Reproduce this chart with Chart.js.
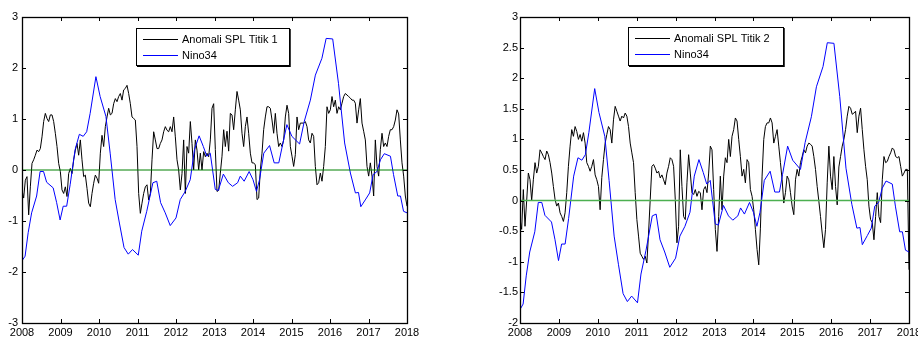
<!DOCTYPE html>
<html>
<head>
<meta charset="utf-8">
<script src="https://cdn.jsdelivr.net/npm/chart.js@4.4.1/dist/chart.umd.min.js"></script>
<style>
  html, body { margin: 0; padding: 0; background: #fff; overflow: hidden; width: 918px; height: 340px; }
  #c1 { position: absolute; left: 0; top: 0; }
  #c2 { position: absolute; left: 459px; top: 0; }
</style>
</head>
<body>
<canvas id="c1" width="459" height="340"></canvas>
<canvas id="c2" width="480" height="340"></canvas>
<script>
// ---- data ----
const yearTicks = [2008, 2009, 2010, 2011, 2012, 2013, 2014, 2015, 2016, 2017, 2018];
const yTicksLeft = [-3, -2, -1, 0, 1, 2, 3];
const yTicksRight = [-2, -1.5, -1, -0.5, 0, 0.5, 1, 1.5, 2, 2.5, 3];

// Nino3.4 index (same series in both panels)
const ninoYears = [
  2008.00, 2008.08, 2008.16, 2008.25, 2008.38, 2008.47, 2008.56, 2008.64, 2008.81, 2008.90, 2008.99,
  2009.07, 2009.16, 2009.25, 2009.38, 2009.49, 2009.59, 2009.68, 2009.77, 2009.92,
  2010.03, 2010.18, 2010.29, 2010.42, 2010.53, 2010.65, 2010.76, 2010.87,
  2011.02, 2011.11, 2011.24, 2011.40, 2011.50, 2011.60, 2011.72, 2011.85,
  2012.00, 2012.11, 2012.24, 2012.37, 2012.48, 2012.60, 2012.71, 2012.80, 2012.89,
  2013.02, 2013.10, 2013.23, 2013.36, 2013.47, 2013.60, 2013.67, 2013.77, 2013.90,
  2014.00, 2014.09, 2014.17, 2014.28, 2014.43, 2014.55, 2014.67, 2014.75, 2014.88,
  2015.01, 2015.21, 2015.33, 2015.49, 2015.62, 2015.79, 2015.90,
  2016.07, 2016.22, 2016.38, 2016.53, 2016.66, 2016.74, 2016.80, 2016.93,
  2017.03, 2017.12, 2017.22, 2017.31, 2017.41, 2017.57, 2017.65, 2017.76, 2017.83, 2017.91, 2018.00
];
const ninoValues = [
  -1.78, -1.69, -1.23, -0.84, -0.51, -0.03, -0.03, -0.24, -0.35, -0.64, -0.98,
  -0.71, -0.71, -0.29, 0.40, 0.70, 0.66, 0.75, 1.11, 1.83,
  1.44, 1.05, 0.33, -0.58, -1.04, -1.52, -1.65, -1.56,
  -1.67, -1.20, -0.81, -0.25, -0.22, -0.64, -0.84, -1.09,
  -0.94, -0.58, -0.42, -0.19, 0.40, 0.67, 0.46, 0.27, 0.33,
  -0.38, -0.40, -0.08, -0.25, -0.32, -0.25, -0.12, -0.22, -0.03,
  -0.19, -0.42, -0.19, 0.33, 0.48, 0.14, 0.14, 0.43, 0.89,
  0.66, 0.51, 0.95, 1.37, 1.86, 2.19, 2.58,
  2.57, 1.70, 0.53, -0.06, -0.45, -0.44, -0.72, -0.57,
  -0.45, -0.09, -0.03, 0.20, 0.32, 0.27, -0.09, -0.51, -0.51, -0.81, -0.84
];

// SST anomaly, point 1 (regular sampling from 2008.0 to 2018.0)
const spl1Values = [
  -0.39, -0.55, -0.20, -0.13, -0.88, -0.33, 0.13, 0.20, 0.29, 0.39, 0.36, 0.42, 0.65, 0.95, 1.11, 1.01,
  0.95, 1.08, 1.08, 0.95, 0.72, 0.46, 0.13, -0.03, -0.39, -0.46, -0.33, -0.52, -0.07, 0.03, -0.07, 0.20,
  0.39, 0.52, 0.29, 0.59, 0.20, -0.13, -0.10, -0.36, -0.65, -0.72, -0.46, -0.26, -0.10, -0.16, -0.26, 0.33,
  0.68, 0.46, 0.85, 1.04, 1.21, 1.08, 1.11, 1.30, 1.40, 1.34, 1.44, 1.50, 1.37, 1.57, 1.60, 1.66,
  1.50, 1.30, 1.04, 1.01, 0.98, 0.46, -0.46, -0.85, -0.65, -0.46, -0.33, -0.29, -0.59, -0.46, 0.20, 0.75,
  0.59, 0.42, 0.42, 0.52, 0.59, 0.75, 0.85, 0.78, 0.75, 0.85, 0.75, 1.04, 0.65, 0.20, 0.00, -0.39,
  -0.07, 0.59, -0.46, 0.46, 0.33, 0.95, 0.52, 0.00, 0.59, 0.39, 0.00, 0.33, 0.00, 0.36, 0.26, 0.33,
  0.26, 0.59, 1.21, 1.30,
  0.40, -0.42, -0.40, -0.06, 0.27, 0.79, 0.46, 0.76, 0.37, 1.11, 1.08, 0.79, 1.18, 1.54, 1.37, 1.18,
  0.72, 0.46, 0.85, 1.04, 0.72, 0.33, 0.14, 0.14, 0.10, -0.58, -0.55, 0.00, 0.33, 0.79, 1.04, 1.24,
  1.24, 1.21, 0.98, 0.72, 1.11, 0.72, 0.46, 0.53, 0.46, 0.59, 1.04, 1.27, 1.11, 0.46, 0.27, 0.07,
  0.30, 1.04, 0.79, 0.92, 0.92, 0.92, 0.95, 0.85, 0.59, 0.53, 0.72, 0.66, 0.07, -0.29, -0.25, -0.06,
  -0.22, 0.07, 0.46, 1.24, 1.11, 1.18, 1.44, 1.24, 1.37, 1.11, 1.24, 1.18, 1.31, 1.44, 1.50, 1.47,
  1.44, 1.41, 1.37, 1.37, 1.31, 0.92, 1.18, 1.40, 0.92, 0.76, 0.59, 0.07, -0.12, 0.14, -0.12, -0.51,
  0.59, 0.07, -0.12, 0.40, 0.72, 0.46, 0.53, 0.46, 0.66, 0.79, 0.79, 0.85, 0.98, 1.18, 1.10, 0.59,
  0.14, -0.12, -0.51, -0.71
];

// SST anomaly, point 2 (regular sampling from 2008.0 to 2018.0)
const spl2Values = [
  -0.30, -0.47, 0.18, -0.42, 0.00, 0.45, 0.34, 0.00, 0.34, 0.62, 0.45, 0.56, 0.83, 0.78, 0.72, 0.67,
  0.81, 0.75, 0.62, 0.45, 0.23, 0.02, -0.09, -0.04, -0.20, -0.26, -0.34, -0.20, 0.13, 0.56, 0.89, 1.16,
  1.05, 1.21, 1.13, 1.00, 1.08, 0.97, 1.11, 0.94, 0.62, 0.56, 0.48, 0.56, 0.67, 0.42, 0.34, 0.23,
  -0.15, 0.38, 0.67, 0.94, 1.08, 1.21, 1.16, 0.94, 1.32, 1.54, 1.46, 1.38, 1.30, 1.38, 1.35, 1.43,
  1.38, 1.21, 0.94, 0.78, 0.62, 0.13, -0.31, -0.58, -0.86, -0.91, -0.96, -0.91, -1.02, -0.53, 0.02, 0.56,
  0.59, 0.53, 0.45, 0.48, 0.37, 0.42, 0.34, 0.26, 0.45, 0.56, 0.70, 0.67, 0.56, 0.02, -0.69, -0.42,
  0.83, 0.23, -0.26, -0.31, 0.29, 0.75, 0.45, 0.13, 0.10, 0.18, 0.07, 0.15, 0.13, -0.15, 0.18, 0.23,
  0.13, 0.45,
  0.89, 0.83, 0.18, -0.47, -0.83, -0.26, 0.40, -0.15, 0.40, 0.70, 0.62, 1.00, 0.72, 1.05, 1.16, 1.35,
  1.30, 1.00, 0.72, 0.40, 0.51, 0.29, 0.67, 0.62, 0.18, 0.07, -0.15, -0.47, -0.80, -1.05, -0.45, 0.40,
  1.00, 1.21, 1.27, 1.27, 1.35, 1.27, 0.94, 1.05, 1.16, 0.89, 0.62, 0.34, -0.04, 0.13, 0.40, 0.34,
  0.13, -0.09, -0.23, 0.34, 0.51, 0.40, 0.62, 0.72, 0.83, 0.78, 0.89, 0.94, 0.92, 0.89, 0.72, 0.51,
  0.23, -0.01, -0.26, -0.53, -0.77, -0.47, 0.29, 0.89, 0.40, 0.18, 0.72, 0.23, -0.07, 0.55, 0.72, 0.89,
  1.00, 1.16, 1.38, 1.54, 1.51, 1.41, 1.43, 1.46, 1.11, 1.38, 1.51, 1.16, 0.83, 0.56, 0.34, -0.09,
  -0.31, -0.36, -0.64, -0.26, 0.13, -0.26, -0.36, 0.34, 0.72, 0.62, 0.64, 0.72, 0.78, 0.86, 0.83, 0.72,
  0.70, 0.72, 0.56, 0.40, 0.45, 0.51, 0.51, -1.13
];

const startYear = 2008;
const endYear = 2018;

// ---- helpers ----
const FONT = { family: '"Liberation Sans", Arial, sans-serif', size: 11 };

function regularSeries(values) {
  const n = values.length;
  const step = (endYear - startYear) / (n - 1);
  return values.map((v, i) => ({ x: startYear + i * step, y: v }));
}
function pairedSeries(xs, ys) {
  return xs.map((x, i) => ({ x: x, y: ys[i] }));
}

// box around the plot area with inward ticks on all four sides
const framePlugin = {
  id: 'frame',
  afterDatasetsDraw(chart) {
    const { ctx, chartArea: a, scales } = chart;
    const tl = 4;
    ctx.save();
    ctx.strokeStyle = '#000';
    ctx.lineWidth = 1;
    ctx.beginPath();
    scales.x.ticks.forEach(t => {
      const px = Math.round(scales.x.getPixelForValue(t.value)) + 0.5;
      ctx.moveTo(px, a.bottom); ctx.lineTo(px, a.bottom - tl);
      ctx.moveTo(px, a.top); ctx.lineTo(px, a.top + tl);
    });
    scales.y.ticks.forEach(t => {
      const py = Math.round(scales.y.getPixelForValue(t.value)) + 0.5;
      ctx.moveTo(a.left, py); ctx.lineTo(a.left + tl, py);
      ctx.moveTo(a.right, py); ctx.lineTo(a.right - tl, py);
    });
    ctx.stroke();
    ctx.lineWidth = 1.3;
    ctx.strokeRect(Math.round(a.left) + 0.5, Math.round(a.top) + 0.5,
                   Math.round(a.right - a.left), Math.round(a.bottom - a.top));
    ctx.restore();
  }
};

// boxed legend listing the two plotted series
const boxLegendPlugin = {
  id: 'boxLegend',
  afterDraw(chart, args, opts) {
    const { ctx } = chart;
    const items = chart.data.datasets.filter(d => d.label);
    const { left, top, width, height, lineLen, rowGap } = opts;
    ctx.save();
    ctx.fillStyle = '#fff';
    ctx.fillRect(left, top, width, height);
    ctx.strokeStyle = '#000';
    ctx.lineWidth = 1;
    ctx.strokeRect(left + 0.5, top + 0.5, width, height);
    ctx.beginPath();
    ctx.lineWidth = 1.5;
    ctx.moveTo(left + width + 1, top + 1); ctx.lineTo(left + width + 1, top + height + 1.2);
    ctx.lineTo(left + 1, top + height + 1.2);
    ctx.stroke();
    ctx.font = FONT.size + 'px ' + FONT.family;
    ctx.textBaseline = 'middle';
    ctx.textAlign = 'left';
    items.forEach((d, i) => {
      const y = top + 11.5 + i * rowGap;
      ctx.strokeStyle = d.borderColor;
      ctx.lineWidth = 1;
      ctx.beginPath();
      ctx.moveTo(left + 7, y); ctx.lineTo(left + 7 + lineLen, y);
      ctx.stroke();
      ctx.fillStyle = '#000';
      ctx.fillText(d.label, left + 11 + lineLen, y + 0.5);
    });
    ctx.restore();
  }
};

function makeChart(id, splLabel, splValues, yMin, yMax, yTicks, geom) {
  return new Chart(document.getElementById(id), {
    type: 'line',
    data: {
      datasets: [
        {
          label: splLabel,
          data: regularSeries(splValues),
          borderColor: '#000000',
          borderWidth: 1,
          pointRadius: 0,
          tension: 0,
          order: 3
        },
        {
          label: 'Nino34',
          data: pairedSeries(ninoYears, ninoValues),
          borderColor: '#0000ff',
          borderWidth: 1,
          pointRadius: 0,
          tension: 0,
          order: 2
        },
        {
          data: [{ x: startYear, y: 0 }, { x: endYear, y: 0 }],
          borderColor: geom.zeroColor,
          borderWidth: geom.zeroWidth,
          pointRadius: 0,
          order: 1
        }
      ]
    },
    options: {
      responsive: false,
      animation: false,
      events: [],
      layout: { padding: { left: 0, top: 17, right: geom.padRight, bottom: 0 } },
      plugins: {
        legend: { display: false },
        tooltip: { enabled: false },
        boxLegend: geom.legend
      },
      scales: {
        x: {
          type: 'linear',
          min: startYear,
          max: endYear,
          afterBuildTicks: s => { s.ticks = yearTicks.map(v => ({ value: v })); },
          afterFit: s => { s.height = 17; },
          ticks: {
            callback: v => String(v),
            font: FONT,
            color: '#000',
            padding: 3,
            maxRotation: 0,
            autoSkip: false
          },
          grid: { display: false, drawTicks: false },
          border: { display: false }
        },
        y: {
          type: 'linear',
          min: yMin,
          max: yMax,
          afterBuildTicks: s => { s.ticks = yTicks.map(v => ({ value: v })); },
          afterFit: s => { s.width = geom.yWidth; },
          ticks: {
            callback: v => String(v),
            font: FONT,
            color: '#000',
            padding: geom.yPad,
            autoSkip: false
          },
          grid: { display: false, drawTicks: false },
          border: { display: false }
        }
      }
    },
    plugins: [framePlugin, boxLegendPlugin]
  });
}

makeChart('c1', 'Anomali SPL Titik 1', spl1Values, -3, 3, yTicksLeft, {
  yWidth: 22, padRight: 52, yPad: 4,
  zeroColor: '#008000', zeroWidth: 1,
  legend: { left: 136, top: 28, width: 153, height: 37, lineLen: 35, rowGap: 16 }
});
makeChart('c2', 'Anomali SPL Titik 2', spl2Values, -2, 3, yTicksRight, {
  yWidth: 61, padRight: 30, yPad: 2,
  zeroColor: '#4caf50', zeroWidth: 1.5,
  legend: { left: 169, top: 27, width: 155, height: 38, lineLen: 35, rowGap: 16 }
});
</script>
</body>
</html>
